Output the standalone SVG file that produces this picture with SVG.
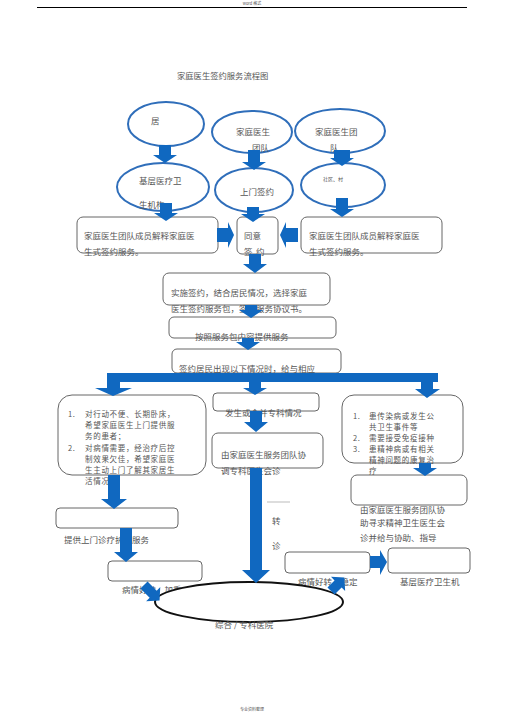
<svg xmlns="http://www.w3.org/2000/svg" width="505" height="714" viewBox="0 0 505 714">
<style>
.t{font-family:"Noto Sans CJK SC","Liberation Sans",sans-serif;font-size:8.5px;fill:#555}
.s{font-size:7.5px;letter-spacing:0.7px}
.el{fill:#fff;stroke:#2f6eba;stroke-width:2}
.bx{fill:#fff;stroke:#666;stroke-width:1}
.ar{fill:#1068c0}
</style>
<rect width="505" height="714" fill="#fff"/>
<text x="252" y="5" class="t" style="font-size:4px" text-anchor="middle">word 格式</text>
<line x1="37" y1="7.5" x2="467" y2="7.5" stroke="#000" stroke-width="1"/>
<text x="177" y="79" class="t" style="font-size:8.3px">家庭医生签约服务流程图</text>

<g id="n-ju"><ellipse class="el" cx="166" cy="124" rx="38" ry="22"/><text x="151" y="124" class="t">居</text></g>
<g id="n-team1"><ellipse class="el" cx="252" cy="132" rx="40" ry="21"/><text x="236" y="135" class="t">家庭医生</text><text x="252" y="151" class="t">团队</text></g>
<g id="n-team2"><ellipse class="el" cx="340" cy="131" rx="45" ry="22"/><text x="315" y="135" class="t">家庭医生团</text><text x="330" y="151" class="t">队</text></g>
<g id="n-jiceng"><ellipse class="el" cx="163" cy="187" rx="46" ry="24"/><text x="139" y="184" class="t">基层医疗卫</text><text x="139" y="208" class="t">生机构</text></g>
<g id="n-shangmen"><ellipse class="el" cx="254" cy="190" rx="39" ry="22"/><text x="240" y="195" class="t">上门签约</text></g>
<g id="n-shequ"><ellipse class="el" cx="343" cy="185" rx="42" ry="22"/><text x="323" y="181" class="t" style="font-size:5px">社区、村</text></g>

<g id="n-explainL"><rect class="bx" x="77" y="217" width="141" height="36" rx="6"/><text x="84" y="239" class="t">家庭医生团队成员解释家庭医</text><text x="84" y="255" class="t">生式签约服务。</text></g>
<g id="n-agree"><rect class="bx" x="237" y="217" width="41" height="37" rx="5"/><text x="244" y="239" class="t">同意</text><text x="244" y="255" class="t">签</text><text x="256" y="255" class="t">约</text></g>
<g id="n-explainR"><rect class="bx" x="301" y="217" width="141" height="36" rx="6"/><text x="309" y="239" class="t">家庭医生团队成员解释家庭医</text><text x="309" y="255" class="t">生式签约服务。</text></g>

<g id="n-sign"><rect class="bx" x="163" y="273" width="167" height="32" rx="6"/><text x="171" y="296" class="t">实施签约，结合居民情况，选择家庭</text><text x="171" y="312" class="t">医生签约服务包，签订服务协议书。</text></g>
<g id="n-serve"><rect class="bx" x="169" y="317" width="167" height="21" rx="5"/><text x="195" y="340" class="t">按照服务包内容提供服务</text></g>
<g id="n-cond"><rect class="bx" x="172" y="349" width="169" height="24" rx="5"/><text x="179" y="372" class="t">签约居民出现以下情况时，给与相应</text></g>

<g id="n-left"><rect class="bx" x="58" y="395" width="148" height="80" rx="14"/>
<text x="68" y="417" class="t s">1.</text><text x="85" y="417" class="t s">对行动不便、长期卧床，</text>
<text x="85" y="428" class="t s">希望家庭医生上门提供服</text>
<text x="85" y="439" class="t s">务的患者；</text>
<text x="68" y="451" class="t s">2.</text><text x="85" y="451" class="t s">对病情需要，经治疗后控</text>
<text x="85" y="462" class="t s">制效果欠佳，希望家庭医</text>
<text x="85" y="473" class="t s">生主动上门了解其家居生</text>
<text x="85" y="484" class="t s">活情况</text></g>

<g id="n-special"><rect class="bx" x="213" y="393" width="106" height="18" rx="4"/><text x="225" y="416" class="t">发生或合并专科情况</text></g>
<g id="n-consult"><rect class="bx" x="212" y="433" width="111" height="35" rx="6"/><text x="221" y="458" class="t">由家庭医生服务团队协</text><text x="221" y="474" class="t">调专科医生会诊</text></g>

<g id="n-right"><rect class="bx" x="342" y="395" width="121" height="68" rx="12"/>
<text x="353" y="419" class="t s">1.</text><text x="369" y="419" class="t s">患传染病或发生公</text>
<text x="369" y="430" class="t s">共卫生事件等</text>
<text x="353" y="441" class="t s">2.</text><text x="369" y="441" class="t s">需要接受免疫接种</text>
<text x="353" y="452" class="t s">3.</text><text x="369" y="452" class="t s">患精神病或有相关</text>
<text x="369" y="463" class="t s">精神问题的康复治</text>
<text x="369" y="474" class="t s">疗</text></g>
<g id="n-mental"><rect class="bx" x="351" y="475" width="116" height="30" rx="6"/>
<text x="360" y="513" class="t">由家庭医生服务团队协</text><text x="360" y="526" class="t">助寻求精神卫生医生会</text><text x="360" y="541" class="t">诊并给与协助、指导</text></g>

<g id="n-visit"><rect class="bx" x="56" y="508" width="122" height="20" rx="4"/><text x="64" y="543" class="t">提供上门诊疗护理服务</text></g>
<g id="n-worse"><rect class="bx" x="108" y="561" width="94" height="20" rx="4"/><text x="122" y="593" class="t">病情好转、加重</text></g>
<g id="n-stable"><rect class="bx" x="285" y="552" width="85" height="21" rx="4"/><text x="298" y="585" class="t">病情好转、稳定</text></g>
<g id="n-base"><rect class="bx" x="388" y="548" width="82" height="25" rx="4"/><text x="400" y="585" class="t">基层医疗卫生机</text></g>
<g id="n-hospital"><ellipse cx="249" cy="602" rx="94" ry="20" fill="#fff" stroke="#111" stroke-width="2"/><text x="215" y="628" class="t">综合 / 专科医院</text></g>

<g id="connectors" class="ar">
<polygon points="159,145 171,145 171,155 177,155 165,163 153,155 159,155"/>
<polygon points="248,150 260,150 260,162 266,162 254,170 242,162 248,162"/>
<polygon points="334,150 350,150 350,158 354,158 342,166 330,158 334,158"/>
<polygon points="160,203 172,203 172,213 178,213 166,221 154,213 160,213"/>
<polygon points="247,207 259,207 259,214 265,214 253,222 241,214 247,214"/>
<polygon points="336,198 348,198 348,209 354,209 342,217 330,209 336,209"/>
<polygon points="217,228 228,228 228,222 234,235 228,248 228,242 217,242"/>
<polygon points="298,228 286,228 286,222 280,235 286,248 286,242 298,242"/>
<polygon points="249,254 261,254 261,264 267,264 255,273 243,264 249,264"/>
<polygon points="245,305 257,305 257,310 263,310 251,318 239,310 245,310"/>
<polygon points="242,338 254,338 254,342 260,342 248,350 236,342 242,342"/>
<rect x="107" y="373" width="331" height="9"/>
<polygon points="107,382 120,382 120,388 132,388 113,396 95,388 107,388"/>
<polygon points="249,382 261,382 261,388 267,388 255,395 243,388 249,388"/>
<polygon points="421,382 433,382 433,389 440,389 427,398 415,389 421,389"/>
<polygon points="250,411 262,411 262,422 268,422 256,432 244,422 250,422"/>
<polygon points="250,468 262,468 262,570 270,570 256,583 242,570 250,570"/>
<polygon points="108,475 120,475 120,499 127,499 114,509 101,499 108,499"/>
<polygon points="120,528 132,528 132,552 138,552 126,562 114,552 120,552"/>
<polygon points="419,463 431,463 431,468 437,468 425,476 413,468 419,468"/>
<polygon points="370,556 380,556 380,550 387,562 380,575 380,568 370,568"/>
<g transform="translate(144,585) rotate(-45)"><polygon points="-5,0 5,0 5,13 10,13 0,22 -10,13 -5,13"/></g>
<g transform="translate(331,591) rotate(-135)"><polygon points="-5,0 5,0 5,10 10,10 0,19 -10,10 -5,10"/></g>
<line x1="267" y1="502" x2="290" y2="502" stroke="#bbb" stroke-width="1"/>
</g>
<text x="272" y="524" class="t">转</text>
<text x="272" y="549" class="t">诊</text>
<text x="252" y="711" class="t" style="font-size:4px" text-anchor="middle">专业资料整理</text>
</svg>
